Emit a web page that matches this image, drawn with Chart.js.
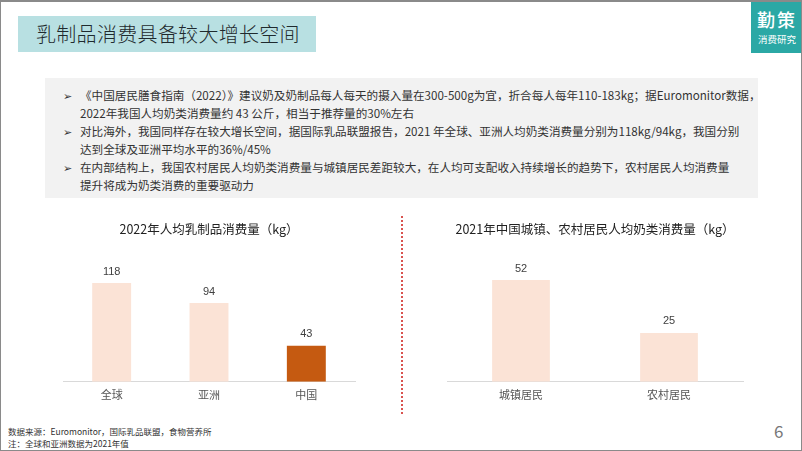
<!DOCTYPE html>
<html>
<head>
<meta charset="utf-8">
<script src="https://cdn.jsdelivr.net/npm/chart.js@4/dist/chart.umd.min.js"></script>
<style>
  body { margin: 0; background: #fff; font-family: "Noto Sans CJK SC", sans-serif; }
  #page { position: relative; width: 802px; height: 451px; overflow: hidden; box-sizing: border-box; border: 1px solid #8a8a8a; border-top-width: 2px; }
  #title { position: absolute; left: 17px; top: 14px; width: 298px; height: 36px; background: #b8e0e2; color: #1f2a2e; font-size: 20px; line-height: 36px; padding-left: 18px; box-sizing: border-box; font-weight: 300; letter-spacing: 0.3px; }
  #logo { position: absolute; left: 750px; top: 0; width: 52px; height: 51px; background: #2ba8a5; color: #fff; text-align: center; }
  #logo .a { font-size: 18px; line-height: 20px; margin-top: 7px; font-weight: 500; letter-spacing: 2px; }
  #logo .b { font-size: 9.5px; line-height: 14px; margin-top: 3px; }
  #box { position: absolute; left: 44px; top: 76px; width: 713px; height: 120px; background: #f2f2f2; }
  #box p { position: absolute; margin: 0; left: 35px; white-space: nowrap; font-size: 11.6px; line-height: 17.5px; color: #333; letter-spacing: 0px; }
  #box p::before { content: "➢"; position: absolute; left: -17px; font-size: 11px; color: #333; }
  #sep { position: absolute; left: 400px; top: 214px; height: 198px; border-left: 2px dotted #d9534f; }
  .cw { position: absolute; }
  #foot { position: absolute; left: 7px; top: 423px; font-size: 8.5px; line-height: 12px; color: #333; }
  #num { position: absolute; left: 773px; top: 416px; font-size: 17px; color: #777; }
</style>
</head>
<body>
<div id="page">
  <div id="title">乳制品消费具备较大增长空间</div>
  <div id="logo"><div class="a">勤策</div><div class="b">消费研究</div></div>
  <div id="box">
    <p style="top:9px">《中国居民膳食指南（2022）》建议奶及奶制品每人每天的摄入量在300-500g为宜，折合每人每年110-183kg；据Euromonitor数据，<br>2022年我国人均奶类消费量约 43 公斤，相当于推荐量的30%左右</p>
    <p style="top:45px">对比海外，我国同样存在较大增长空间，据国际乳品联盟报告，2021 年全球、亚洲人均奶类消费量分别为118kg/94kg，我国分别<br>达到全球及亚洲平均水平的36%/45%</p>
    <p style="top:81px">在内部结构上，我国农村居民人均奶类消费量与城镇居民差距较大，在人均可支配收入持续增长的趋势下，农村居民人均消费量<br>提升将成为奶类消费的重要驱动力</p>
  </div>
  <div class="cw" style="left:45px;top:212px;width:330px;height:200px"><canvas id="c1"></canvas></div>
  <div id="sep"></div>
  <div class="cw" style="left:425px;top:212px;width:340px;height:200px"><canvas id="c2"></canvas></div>
  <div id="foot">数据来源：Euromonitor，国际乳品联盟，食物营养所<br>注：全球和亚洲数据为2021年值</div>
  <div id="num">6</div>
</div>
<script>
const regions = ['全球', '亚洲', '中国'];
const perCapita2022 = [118, 94, 43];
const urbanRural = ['城镇居民', '农村居民'];
const dairy2021 = [52, 25];

const light = '#fbe3d6';
const dark = '#c55a11';

// draws value labels above each bar
const valueLabels = {
  id: 'valueLabels',
  afterDatasetsDraw(chart) {
    const ctx = chart.ctx;
    const meta = chart.getDatasetMeta(0);
    ctx.save();
    ctx.font = '11px "Liberation Sans", Arial, sans-serif';
    ctx.fillStyle = '#404040';
    ctx.textAlign = 'center';
    ctx.textBaseline = 'bottom';
    meta.data.forEach((bar, i) => {
      ctx.fillText(chart.data.datasets[0].data[i], bar.x, bar.y - 6);
    });
    ctx.restore();
  }
};

function makeChart(id, labels, values, colors, yMax, pad, title, pct) {
  return new Chart(document.getElementById(id), {
    type: 'bar',
    data: {
      labels: labels,
      datasets: [{ data: values, backgroundColor: colors, barPercentage: pct, categoryPercentage: 1 }]
    },
    options: {
      responsive: true,
      maintainAspectRatio: false,
      animation: false,
      layout: { padding: pad },
      plugins: {
        legend: { display: false },
        tooltip: { enabled: false },
        title: {
          display: true,
          text: title,
          color: '#222',
          font: { size: 12.5, family: '"Noto Sans CJK SC", sans-serif', weight: 'normal' },
          padding: { top: 8, bottom: 0 }
        }
      },
      scales: {
        x: {
          grid: { display: false, drawTicks: false },
          border: { color: '#d9d9d9', width: 1 },
          ticks: { color: '#555', font: { size: 11, family: '"Noto Sans CJK SC", sans-serif' }, padding: 6 }
        },
        y: { display: false, min: 0, max: yMax }
      }
    },
    plugins: [valueLabels]
  });
}

makeChart('c1', regions, perCapita2022, [light, light, dark], 173,
  { left: 17, right: 21, bottom: 7 }, '2022年人均乳制品消费量（kg）', 0.4);
makeChart('c2', urbanRural, dairy2021, [light, light], 74,
  { left: 21, right: 23, bottom: 7 }, '2021年中国城镇、农村居民人均奶类消费量（kg）', 0.39);
</script>
</body>
</html>
